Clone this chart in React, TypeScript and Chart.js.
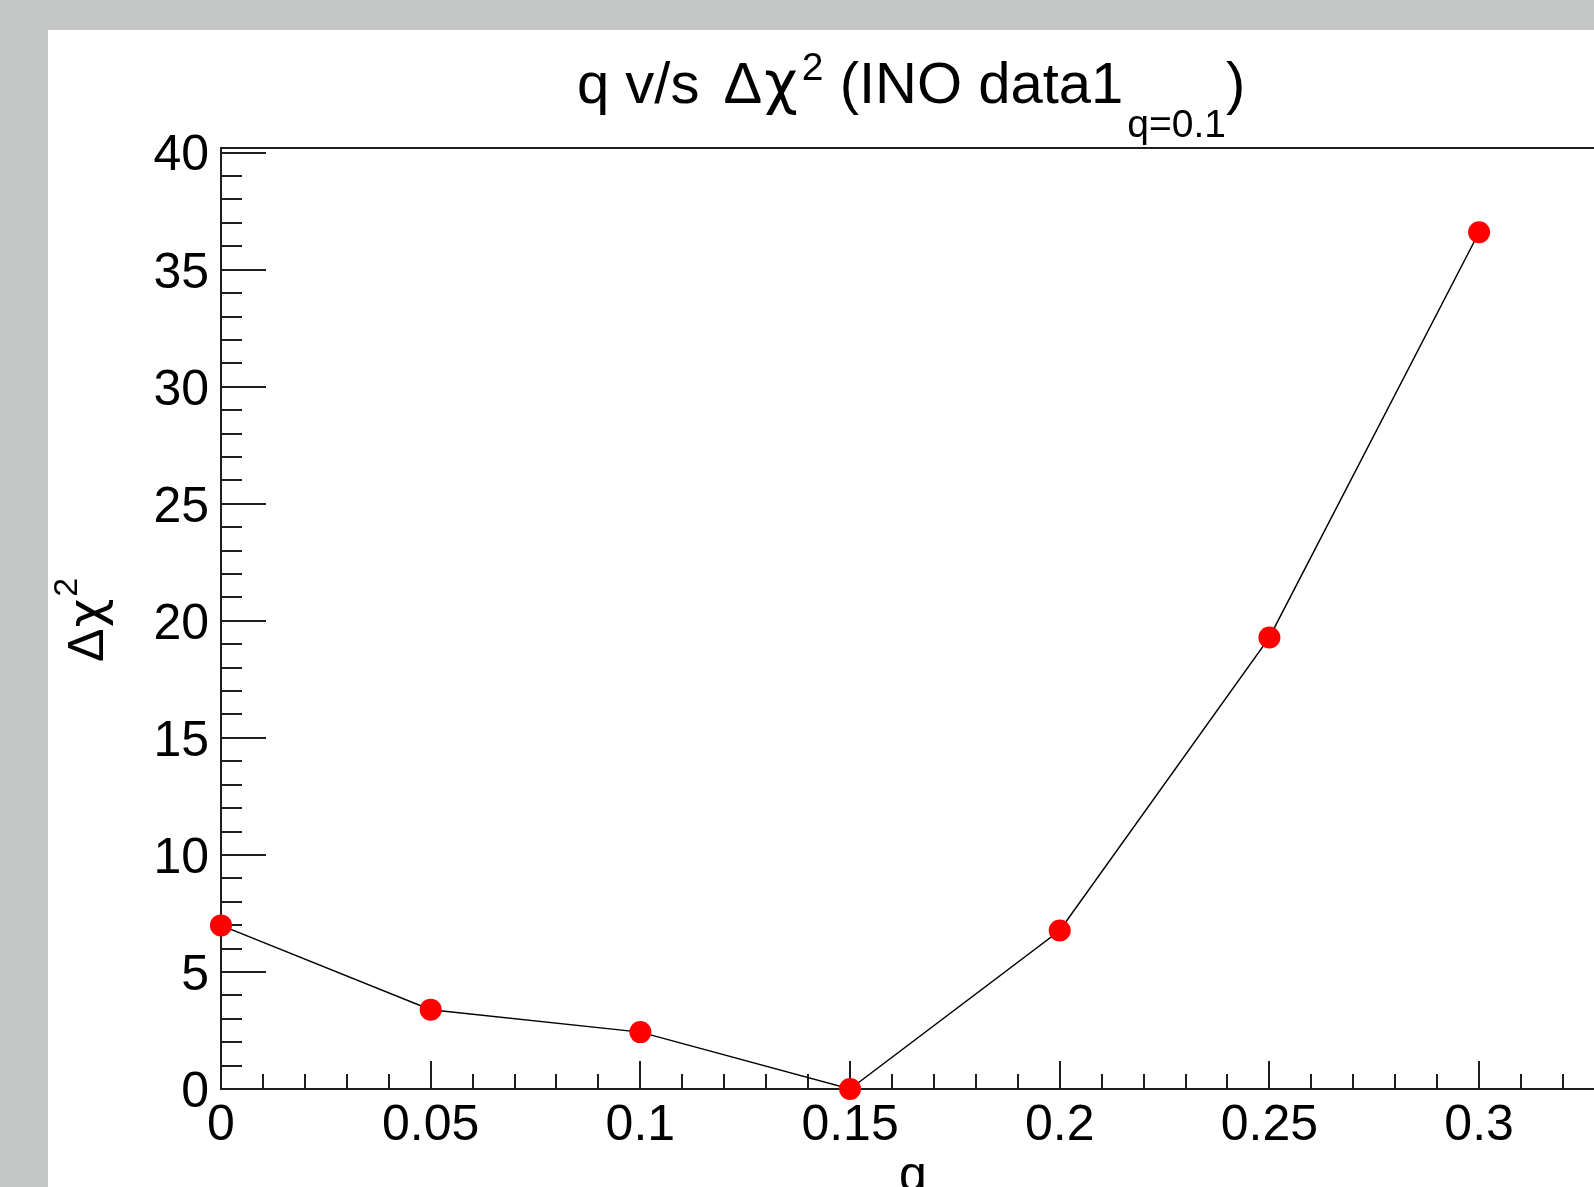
import React, { useEffect, useRef } from "react";
import { Chart, registerables } from "chart.js";

Chart.register(...registerables);

// ---- data ----
const qValues = [0, 0.05, 0.1, 0.15, 0.2, 0.25, 0.3];
const deltaChi2 = [6.99, 3.39, 2.43, 0.0, 6.77, 19.29, 36.6];
const xTickValues = [0, 0.05, 0.1, 0.15, 0.2, 0.25, 0.3];
const yTickValues = [0, 5, 10, 15, 20, 25, 30, 35, 40];
const xMinorStep = 0.01;
const yMinorStep = 1;

const X_MIN = 0;
const X_MAX = 0.3274;
const Y_MIN = 0;
const Y_MAX = 40.2;

const W = 1594;
const H = 1187;
const FONT = '"Liberation Sans", Arial, Helvetica, sans-serif';
const GREEK = '"DejaVu Sans", "Liberation Sans", sans-serif';

const rootPlugin = {
  id: "rootStyle",
  beforeDraw(chart: any) {
    const ctx = chart.ctx;
    ctx.save();
    ctx.fillStyle = "#c5c7c6";
    ctx.fillRect(0, 0, W, H);
    ctx.fillStyle = "#ffffff";
    ctx.fillRect(48, 30, W - 48, H - 30);
    ctx.restore();
  },
  beforeDatasetsDraw(chart: any) {
    const { ctx, chartArea: a, scales } = chart;
    const xs = scales.x;
    const ys = scales.y;
    ctx.save();
    ctx.strokeStyle = "#1e1e1e";
    ctx.lineWidth = 2;
    ctx.beginPath();
    ctx.moveTo(W + 4, a.top);
    ctx.lineTo(a.left, a.top);
    ctx.lineTo(a.left, a.bottom);
    ctx.lineTo(W + 4, a.bottom);
    ctx.stroke();
    ctx.beginPath();
    const nx = Math.floor((X_MAX - X_MIN) / xMinorStep + 1e-9);
    for (let i = 0; i <= nx; i++) {
      const v = X_MIN + i * xMinorStep;
      const px = Math.round(xs.getPixelForValue(v));
      const len = i % 5 === 0 ? 28 : 15;
      ctx.moveTo(px, a.bottom);
      ctx.lineTo(px, a.bottom - len);
    }
    const ny = Math.floor((Y_MAX - Y_MIN) / yMinorStep + 1e-9);
    for (let i = 0; i <= ny; i++) {
      const v = Y_MIN + i * yMinorStep;
      const py = Math.round(ys.getPixelForValue(v));
      const len = i % 5 === 0 ? 45 : 21;
      ctx.moveTo(a.left, py);
      ctx.lineTo(a.left + len, py);
    }
    ctx.stroke();
    ctx.restore();
  },
  afterDraw(chart: any) {
    const ctx = chart.ctx;
    ctx.save();
    ctx.fillStyle = "#000";
    ctx.textAlign = "left";
    ctx.textBaseline = "alphabetic";
    const mainF = `58px ${FONT}`;
    const greekF = `58px ${GREEK}`;
    const smallF = `39px ${FONT}`;
    const base = 103;
    const segs = [
      { t: "q v/s ", f: mainF, y: base, gap: 0 },
      { t: "\u0394", f: mainF, y: base, gap: 8 },
      { t: "\u03c7", f: greekF, y: base, gap: 2 },
      { t: "2", f: smallF, y: 80, gap: 4 },
      { t: " (INO data1", f: mainF, y: base, gap: 0 },
      { t: "q=0.1", f: smallF, y: 137, gap: 4 },
      { t: ")", f: mainF, y: base, gap: 0 },
    ];
    let x = 577;
    for (const s of segs) {
      ctx.font = s.f;
      x += s.gap;
      ctx.fillText(s.t, x, s.y);
      x += ctx.measureText(s.t).width;
    }
    // y title
    ctx.save();
    ctx.translate(103, 662);
    ctx.rotate(-Math.PI / 2);
    ctx.font = `50px ${FONT}`;
    ctx.fillText("\u0394", 0, 0);
    let w = ctx.measureText("\u0394").width;
    ctx.font = `50px ${GREEK}`;
    ctx.fillText("\u03c7", w + 1, 0);
    w += 1 + ctx.measureText("\u03c7").width;
    ctx.font = `34px ${FONT}`;
    ctx.fillText("2", w + 2, -26);
    ctx.restore();
    // x title
    ctx.font = `50px ${FONT}`;
    ctx.textAlign = "center";
    ctx.fillText("q", 913, 1191);
    ctx.restore();
  },
};

export default function App() {
  const ref = useRef<HTMLCanvasElement | null>(null);
  useEffect(() => {
    if (!ref.current) return;
    const chart = new Chart(ref.current, {
      type: "line",
      data: {
        datasets: [
          {
            data: qValues.map((q, i) => ({ x: q, y: deltaChi2[i] })),
            borderColor: "#000",
            borderWidth: 1.5,
            pointBackgroundColor: "#ff0000",
            pointBorderWidth: 0,
            pointRadius: 11,
            pointHoverRadius: 11,
            tension: 0,
            clip: false as any,
          },
        ],
      },
      plugins: [rootPlugin],
      options: {
        animation: false,
        responsive: false,
        devicePixelRatio: 1,
        events: [],
        layout: { autoPadding: false, padding: { top: 148, left: 0, right: 0, bottom: 0 } },
        plugins: { legend: { display: false }, tooltip: { enabled: false }, title: { display: false } },
        scales: {
          x: {
            type: "linear",
            min: X_MIN,
            max: X_MAX,
            grid: { display: false, drawTicks: false },
            border: { display: false },
            afterBuildTicks: (s: any) => {
              s.ticks = xTickValues.map((v) => ({ value: v }));
            },
            afterFit: (s: any) => {
              s.height = H - 1089;
              s.paddingLeft = 0;
              s.paddingRight = 0;
            },
            ticks: {
              autoSkip: false,
              maxRotation: 0,
              padding: 7,
              color: "#000",
              font: { family: FONT, size: 50, lineHeight: 1.2 },
              callback: (v: any) => String(v),
            },
          },
          y: {
            type: "linear",
            min: Y_MIN,
            max: Y_MAX,
            grid: { display: false, drawTicks: false },
            border: { display: false },
            afterBuildTicks: (s: any) => {
              s.ticks = yTickValues.map((v) => ({ value: v }));
            },
            afterFit: (s: any) => {
              s.width = 221;
              s.paddingTop = 0;
              s.paddingBottom = 0;
            },
            ticks: {
              autoSkip: false,
              padding: 12,
              labelOffset: 4,
              color: "#000",
              font: { family: FONT, size: 50, lineHeight: 1.2 },
              callback: (v: any) => String(v),
            },
          },
        },
      },
    });
    return () => chart.destroy();
  }, []);
  return (
    <div style={{ position: "fixed", left: 0, top: 0, width: W, height: H, overflow: "hidden" }}>
      <canvas ref={ref} width={W} height={H} style={{ display: "block", width: W, height: H }} />
    </div>
  );
}
